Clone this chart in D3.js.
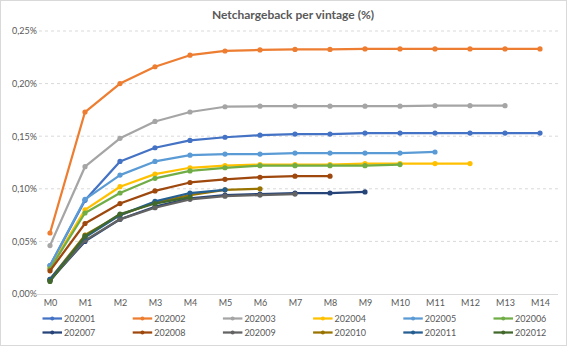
<!DOCTYPE html>
<html><head><meta charset="utf-8">
<script src="https://cdn.jsdelivr.net/npm/d3@7"></script>
<style>body{margin:0;background:#fff}svg{display:block}</style>
</head><body>
<svg id="c" width="567" height="346"></svg>
<script>
const months = ["M0","M1","M2","M3","M4","M5","M6","M7","M8","M9","M10","M11","M12","M13","M14"];
const yTicks = [0, 0.05, 0.10, 0.15, 0.20, 0.25];
const vintages = ["202001","202002","202003","202004","202005","202006","202007","202008","202009","202010","202011","202012"];
const colors = ["#4472C4","#ED7D31","#A5A5A5","#FFC000","#5B9BD5","#70AD47","#264478","#9E480E","#636363","#997300","#255E91","#43682B"];
const s202001 = [0.027,0.089,0.126,0.139,0.146,0.149,0.151,0.152,0.152,0.153,0.153,0.153,0.153,0.153,0.153];
const s202002 = [0.058,0.173,0.200,0.216,0.227,0.231,0.232,0.2325,0.2325,0.233,0.233,0.233,0.233,0.233,0.233];
const s202003 = [0.046,0.121,0.148,0.164,0.173,0.178,0.1785,0.1785,0.1785,0.1785,0.1785,0.179,0.179,0.179];
const s202004 = [0.025,0.080,0.102,0.114,0.120,0.122,0.123,0.123,0.123,0.124,0.124,0.124,0.124];
const s202005 = [0.027,0.090,0.113,0.126,0.132,0.133,0.133,0.134,0.134,0.134,0.134,0.135];
const s202006 = [0.024,0.077,0.096,0.110,0.117,0.120,0.122,0.122,0.122,0.122,0.123];
const s202007 = [0.013,0.050,0.071,0.083,0.091,0.094,0.095,0.096,0.096,0.097];
const s202008 = [0.022,0.067,0.086,0.098,0.106,0.109,0.111,0.112,0.112];
const s202009 = [0.013,0.051,0.071,0.082,0.090,0.093,0.094,0.095];
const s202010 = [0.014,0.056,0.075,0.087,0.094,0.099,0.100];
const s202011 = [0.014,0.054,0.075,0.088,0.096,0.099];
const s202012 = [0.012,0.055,0.076,0.086,0.092];
const seriesValues = [s202001,s202002,s202003,s202004,s202005,s202006,s202007,s202008,s202009,s202010,s202011,s202012];

const svg = d3.select("#c");
const font = "Lato, 'Open Sans', sans-serif";
svg.append("rect").attr("x",0.5).attr("y",0.5).attr("width",566).attr("height",345)
  .attr("fill","#fff").attr("stroke","#D9D9D9");

const x = d3.scalePoint().domain(months).range([32.5,557.5]).padding(0.5);
const y = d3.scaleLinear().domain([0,0.25]).range([294,31]);

// gridlines
svg.append("g").selectAll("line").data(yTicks.slice(1)).join("line")
  .attr("x1",33).attr("x2",558).attr("y1",d=>y(d)).attr("y2",d=>y(d))
  .attr("stroke","#D9D9D9").attr("stroke-dasharray","3,3").attr("stroke-width",1);

// y axis labels
const yAxis = d3.axisLeft(y).tickValues(yTicks).tickSize(0).tickPadding(0)
  .tickFormat(d=>d.toFixed(2).replace(".",",")+"%");
const gy = svg.append("g").attr("transform","translate(37,0)").call(yAxis);
gy.select(".domain").remove();
gy.selectAll("text").attr("font-family",font).attr("font-size",9).attr("fill","#595959");

// x axis
const xAxis = d3.axisBottom(x).tickSize(0).tickPadding(6);
const gx = svg.append("g").attr("transform","translate(0,294)").call(xAxis);
gx.select(".domain").attr("stroke","#D9D9D9").attr("d","M33,0.5H558");
gx.selectAll("text").attr("font-family",font).attr("font-size",9).attr("fill","#595959");

// lines
const line = d3.line().x((d,i)=>x(months[i])).y(d=>y(d));
vintages.forEach((v,k)=>{
  const g = svg.append("g");
  g.append("path").datum(seriesValues[k]).attr("d",line).attr("fill","none")
    .attr("stroke",colors[k]).attr("stroke-width",2.25).attr("stroke-linejoin","round");
  g.selectAll("circle").data(seriesValues[k]).join("circle")
    .attr("cx",(d,i)=>x(months[i])).attr("cy",d=>y(d)).attr("r",2.6).attr("fill",colors[k]);
});

// title
svg.append("text").attr("x",293).attr("y",19).attr("text-anchor","middle")
  .attr("font-family",font).attr("font-weight","bold").attr("font-size",12).attr("fill","#595959")
  .text("Netchargeback per vintage (%)");

// legend
const lg = svg.append("g");
vintages.forEach((v,k)=>{
  const col = k%6, row = Math.floor(k/6);
  const lx = 42.5 + col*90.2, ly = 318.5 + row*14;
  lg.append("line").attr("x1",lx).attr("x2",lx+19.5).attr("y1",ly).attr("y2",ly)
    .attr("stroke",colors[k]).attr("stroke-width",2.25);
  lg.append("circle").attr("cx",lx+9.75).attr("cy",ly).attr("r",2).attr("fill",colors[k]);
  lg.append("text").attr("x",lx+21.5).attr("y",ly+3).attr("font-family",font)
    .attr("font-size",9).attr("fill","#595959").text(v);
});
</script>
</body></html>
